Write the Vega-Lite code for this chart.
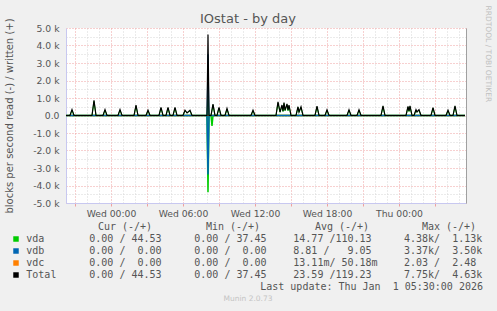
{
  "$schema": "https://vega.github.io/schema/vega-lite/v6.json",
  "width": 400,
  "height": 175,
  "autosize": {"type": "none"},
  "padding": {"left": 66, "top": 28, "right": 31, "bottom": 108},
  "background": "#f0f0f0",
  "title": {"text": "IOstat - by day", "font": "DejaVu Sans", "fontSize": 13, "fontWeight": "normal", "color": "#555555", "anchor": "middle", "frame": "group", "dx": -18, "offset": 3, "dy": 34, "baseline": "alphabetic"},
  "datasets": {
    "writes": [
      {"t": "2025-12-30T20:15:00Z", "Total": 0, "vda": 0, "vdb": 0, "vdc": 0},
      {"t": "2025-12-30T20:35:00Z", "Total": 0, "vda": 0, "vdb": 0, "vdc": 0},
      {"t": "2025-12-30T20:45:00Z", "Total": 340, "vda": 310, "vdb": 0, "vdc": 0},
      {"t": "2025-12-30T20:55:00Z", "Total": 0, "vda": 0, "vdb": 0, "vdc": 0},
      {"t": "2025-12-30T22:25:00Z", "Total": 0, "vda": 0, "vdb": 0, "vdc": 0},
      {"t": "2025-12-30T22:35:00Z", "Total": 870, "vda": 800, "vdb": 0, "vdc": 0},
      {"t": "2025-12-30T22:45:00Z", "Total": 0, "vda": 0, "vdb": 0, "vdc": 0},
      {"t": "2025-12-30T23:20:00Z", "Total": 0, "vda": 0, "vdb": 0, "vdc": 0},
      {"t": "2025-12-30T23:30:00Z", "Total": 340, "vda": 310, "vdb": 0, "vdc": 0},
      {"t": "2025-12-30T23:40:00Z", "Total": 0, "vda": 0, "vdb": 0, "vdc": 0},
      {"t": "2025-12-31T00:35:00Z", "Total": 0, "vda": 0, "vdb": 0, "vdc": 0},
      {"t": "2025-12-31T00:45:00Z", "Total": 340, "vda": 310, "vdb": 0, "vdc": 0},
      {"t": "2025-12-31T00:55:00Z", "Total": 0, "vda": 0, "vdb": 0, "vdc": 0},
      {"t": "2025-12-31T01:55:00Z", "Total": 0, "vda": 0, "vdb": 0, "vdc": 0},
      {"t": "2025-12-31T02:05:00Z", "Total": 590, "vda": 540, "vdb": 0, "vdc": 0},
      {"t": "2025-12-31T02:15:00Z", "Total": 0, "vda": 0, "vdb": 0, "vdc": 0},
      {"t": "2025-12-31T02:55:00Z", "Total": 0, "vda": 0, "vdb": 0, "vdc": 0},
      {"t": "2025-12-31T03:05:00Z", "Total": 300, "vda": 275, "vdb": 0, "vdc": 0},
      {"t": "2025-12-31T03:15:00Z", "Total": 0, "vda": 0, "vdb": 0, "vdc": 0},
      {"t": "2025-12-31T04:00:00Z", "Total": 0, "vda": 0, "vdb": 0, "vdc": 0},
      {"t": "2025-12-31T04:10:00Z", "Total": 460, "vda": 420, "vdb": 0, "vdc": 0},
      {"t": "2025-12-31T04:20:00Z", "Total": 0, "vda": 0, "vdb": 0, "vdc": 0},
      {"t": "2025-12-31T04:35:00Z", "Total": 0, "vda": 0, "vdb": 0, "vdc": 0},
      {"t": "2025-12-31T04:45:00Z", "Total": 460, "vda": 420, "vdb": 0, "vdc": 0},
      {"t": "2025-12-31T04:55:00Z", "Total": 0, "vda": 0, "vdb": 0, "vdc": 0},
      {"t": "2025-12-31T05:10:00Z", "Total": 0, "vda": 0, "vdb": 0, "vdc": 0},
      {"t": "2025-12-31T05:20:00Z", "Total": 460, "vda": 420, "vdb": 0, "vdc": 0},
      {"t": "2025-12-31T05:30:00Z", "Total": 0, "vda": 0, "vdb": 0, "vdc": 0},
      {"t": "2025-12-31T06:00:00Z", "Total": 0, "vda": 0, "vdb": 0, "vdc": 0},
      {"t": "2025-12-31T06:10:00Z", "Total": 300, "vda": 275, "vdb": 0, "vdc": 0},
      {"t": "2025-12-31T06:20:00Z", "Total": 150, "vda": 140, "vdb": 0, "vdc": 0},
      {"t": "2025-12-31T06:35:00Z", "Total": 300, "vda": 275, "vdb": 0, "vdc": 0},
      {"t": "2025-12-31T06:45:00Z", "Total": 0, "vda": 0, "vdb": 0, "vdc": 0},
      {"t": "2025-12-31T08:00:00Z", "Total": 0, "vda": 0, "vdb": 0, "vdc": 0},
      {"t": "2025-12-31T08:05:00Z", "Total": 4630, "vda": 1130, "vdb": 3500, "vdc": 0},
      {"t": "2025-12-31T08:10:00Z", "Total": 0, "vda": 0, "vdb": 0, "vdc": 0},
      {"t": "2025-12-31T08:20:00Z", "Total": 0, "vda": 0, "vdb": 0, "vdc": 0},
      {"t": "2025-12-31T08:30:00Z", "Total": 650, "vda": 600, "vdb": 0, "vdc": 0},
      {"t": "2025-12-31T08:40:00Z", "Total": 0, "vda": 0, "vdb": 0, "vdc": 0},
      {"t": "2025-12-31T08:50:00Z", "Total": 0, "vda": 0, "vdb": 0, "vdc": 0},
      {"t": "2025-12-31T09:00:00Z", "Total": 460, "vda": 420, "vdb": 0, "vdc": 0},
      {"t": "2025-12-31T09:10:00Z", "Total": 0, "vda": 0, "vdb": 0, "vdc": 0},
      {"t": "2025-12-31T09:30:00Z", "Total": 0, "vda": 0, "vdb": 0, "vdc": 0},
      {"t": "2025-12-31T09:40:00Z", "Total": 400, "vda": 370, "vdb": 0, "vdc": 0},
      {"t": "2025-12-31T09:50:00Z", "Total": 0, "vda": 0, "vdb": 0, "vdc": 0},
      {"t": "2025-12-31T11:40:00Z", "Total": 0, "vda": 0, "vdb": 0, "vdc": 0},
      {"t": "2025-12-31T11:50:00Z", "Total": 300, "vda": 275, "vdb": 0, "vdc": 0},
      {"t": "2025-12-31T12:00:00Z", "Total": 0, "vda": 0, "vdb": 0, "vdc": 0},
      {"t": "2025-12-31T13:45:00Z", "Total": 0, "vda": 0, "vdb": 0, "vdc": 0},
      {"t": "2025-12-31T13:55:00Z", "Total": 780, "vda": 720, "vdb": 0, "vdc": 0},
      {"t": "2025-12-31T14:05:00Z", "Total": 200, "vda": 185, "vdb": 0, "vdc": 0},
      {"t": "2025-12-31T14:15:00Z", "Total": 600, "vda": 550, "vdb": 0, "vdc": 0},
      {"t": "2025-12-31T14:20:00Z", "Total": 250, "vda": 230, "vdb": 0, "vdc": 0},
      {"t": "2025-12-31T14:25:00Z", "Total": 740, "vda": 680, "vdb": 0, "vdc": 0},
      {"t": "2025-12-31T14:30:00Z", "Total": 300, "vda": 275, "vdb": 0, "vdc": 0},
      {"t": "2025-12-31T14:40:00Z", "Total": 660, "vda": 610, "vdb": 0, "vdc": 0},
      {"t": "2025-12-31T14:45:00Z", "Total": 300, "vda": 275, "vdb": 0, "vdc": 0},
      {"t": "2025-12-31T14:50:00Z", "Total": 600, "vda": 550, "vdb": 0, "vdc": 0},
      {"t": "2025-12-31T15:00:00Z", "Total": 0, "vda": 0, "vdb": 0, "vdc": 0},
      {"t": "2025-12-31T15:25:00Z", "Total": 0, "vda": 0, "vdb": 0, "vdc": 0},
      {"t": "2025-12-31T15:35:00Z", "Total": 500, "vda": 460, "vdb": 0, "vdc": 0},
      {"t": "2025-12-31T15:40:00Z", "Total": 200, "vda": 185, "vdb": 0, "vdc": 0},
      {"t": "2025-12-31T15:50:00Z", "Total": 500, "vda": 460, "vdb": 0, "vdc": 0},
      {"t": "2025-12-31T16:00:00Z", "Total": 0, "vda": 0, "vdb": 0, "vdc": 0},
      {"t": "2025-12-31T17:00:00Z", "Total": 0, "vda": 0, "vdb": 0, "vdc": 0},
      {"t": "2025-12-31T17:10:00Z", "Total": 530, "vda": 490, "vdb": 0, "vdc": 0},
      {"t": "2025-12-31T17:20:00Z", "Total": 0, "vda": 0, "vdb": 0, "vdc": 0},
      {"t": "2025-12-31T17:50:00Z", "Total": 0, "vda": 0, "vdb": 0, "vdc": 0},
      {"t": "2025-12-31T18:00:00Z", "Total": 330, "vda": 300, "vdb": 0, "vdc": 0},
      {"t": "2025-12-31T18:10:00Z", "Total": 0, "vda": 0, "vdb": 0, "vdc": 0},
      {"t": "2025-12-31T19:40:00Z", "Total": 0, "vda": 0, "vdb": 0, "vdc": 0},
      {"t": "2025-12-31T19:50:00Z", "Total": 330, "vda": 300, "vdb": 0, "vdc": 0},
      {"t": "2025-12-31T20:00:00Z", "Total": 0, "vda": 0, "vdb": 0, "vdc": 0},
      {"t": "2025-12-31T20:30:00Z", "Total": 0, "vda": 0, "vdb": 0, "vdc": 0},
      {"t": "2025-12-31T20:40:00Z", "Total": 330, "vda": 300, "vdb": 0, "vdc": 0},
      {"t": "2025-12-31T20:50:00Z", "Total": 0, "vda": 0, "vdb": 0, "vdc": 0},
      {"t": "2025-12-31T22:30:00Z", "Total": 0, "vda": 0, "vdb": 0, "vdc": 0},
      {"t": "2025-12-31T22:40:00Z", "Total": 550, "vda": 505, "vdb": 0, "vdc": 0},
      {"t": "2025-12-31T22:50:00Z", "Total": 0, "vda": 0, "vdb": 0, "vdc": 0},
      {"t": "2026-01-01T00:35:00Z", "Total": 0, "vda": 0, "vdb": 0, "vdc": 0},
      {"t": "2026-01-01T00:45:00Z", "Total": 520, "vda": 480, "vdb": 0, "vdc": 0},
      {"t": "2026-01-01T00:50:00Z", "Total": 250, "vda": 230, "vdb": 0, "vdc": 0},
      {"t": "2026-01-01T00:55:00Z", "Total": 550, "vda": 505, "vdb": 0, "vdc": 0},
      {"t": "2026-01-01T01:05:00Z", "Total": 0, "vda": 0, "vdb": 0, "vdc": 0},
      {"t": "2026-01-01T01:15:00Z", "Total": 0, "vda": 0, "vdb": 0, "vdc": 0},
      {"t": "2026-01-01T01:25:00Z", "Total": 330, "vda": 300, "vdb": 0, "vdc": 0},
      {"t": "2026-01-01T01:30:00Z", "Total": 200, "vda": 185, "vdb": 0, "vdc": 0},
      {"t": "2026-01-01T01:40:00Z", "Total": 330, "vda": 300, "vdb": 0, "vdc": 0},
      {"t": "2026-01-01T01:50:00Z", "Total": 0, "vda": 0, "vdb": 0, "vdc": 0},
      {"t": "2026-01-01T02:40:00Z", "Total": 0, "vda": 0, "vdb": 0, "vdc": 0},
      {"t": "2026-01-01T02:50:00Z", "Total": 450, "vda": 415, "vdb": 0, "vdc": 0},
      {"t": "2026-01-01T03:00:00Z", "Total": 0, "vda": 0, "vdb": 0, "vdc": 0},
      {"t": "2026-01-01T03:55:00Z", "Total": 0, "vda": 0, "vdb": 0, "vdc": 0},
      {"t": "2026-01-01T04:05:00Z", "Total": 300, "vda": 275, "vdb": 0, "vdc": 0},
      {"t": "2026-01-01T04:15:00Z", "Total": 0, "vda": 0, "vdb": 0, "vdc": 0},
      {"t": "2026-01-01T04:30:00Z", "Total": 0, "vda": 0, "vdb": 0, "vdc": 0},
      {"t": "2026-01-01T04:40:00Z", "Total": 550, "vda": 505, "vdb": 0, "vdc": 0},
      {"t": "2026-01-01T04:50:00Z", "Total": 0, "vda": 0, "vdb": 0, "vdc": 0},
      {"t": "2026-01-01T05:30:00Z", "Total": 0, "vda": 0, "vdb": 0, "vdc": 0}
    ],
    "reads": [
      {"t": "2025-12-30T20:15:00Z", "vdc": 0, "vda": 0, "vdb": 0},
      {"t": "2025-12-31T08:00:00Z", "vdc": 0, "vda": 0, "vdb": 0},
      {"t": "2025-12-31T08:05:00Z", "vdc": 0, "vda": -4380, "vdb": -3370},
      {"t": "2025-12-31T08:10:00Z", "vdc": 0, "vda": 0, "vdb": 0},
      {"t": "2025-12-31T08:20:00Z", "vdc": 0, "vda": 0, "vdb": 0},
      {"t": "2025-12-31T08:25:00Z", "vdc": 0, "vda": -600, "vdb": 0},
      {"t": "2025-12-31T08:30:00Z", "vdc": 0, "vda": 0, "vdb": 0},
      {"t": "2026-01-01T05:30:00Z", "vdc": 0, "vda": 0, "vdb": 0}
    ],
    "table": [
      {"k": "hdr", "c": 6, "r": 0, "txt": "Cur (-/+)"},
      {"k": "hdr", "c": 7, "r": 0, "txt": "Min (-/+)"},
      {"k": "hdr", "c": 8, "r": 0, "txt": "Avg (-/+)"},
      {"k": "hdr", "c": 9, "r": 0, "txt": "Max (-/+)"},
      {"k": "sw", "c": -2, "r": 1, "s": "vda"},
      {"k": "sw", "c": -2, "r": 2, "s": "vdb"},
      {"k": "sw", "c": -2, "r": 3, "s": "vdc"},
      {"k": "sw", "c": -2, "r": 4, "s": "Total"},
      {"k": "txt", "c": -1, "r": 1, "txt": "vda"},
      {"k": "txt", "c": -1, "r": 2, "txt": "vdb"},
      {"k": "txt", "c": -1, "r": 3, "txt": "vdc"},
      {"k": "txt", "c": -1, "r": 4, "txt": "Total"},
      {"k": "txt", "c": 0, "r": 1, "txt": "0.00\u00a0/\u00a044.53"},
      {"k": "txt", "c": 1, "r": 1, "txt": "0.00\u00a0/\u00a037.45"},
      {"k": "txt", "c": 2, "r": 1, "txt": "14.77\u00a0/110.13"},
      {"k": "txt", "c": 3, "r": 1, "txt": "4.38k/\u00a0\u00a01.13k"},
      {"k": "txt", "c": 0, "r": 2, "txt": "0.00\u00a0/\u00a0\u00a00.00"},
      {"k": "txt", "c": 1, "r": 2, "txt": "0.00\u00a0/\u00a0\u00a00.00"},
      {"k": "txt", "c": 2, "r": 2, "txt": "8.81\u00a0/\u00a0\u00a0\u00a09.05"},
      {"k": "txt", "c": 3, "r": 2, "txt": "3.37k/\u00a0\u00a03.50k"},
      {"k": "txt", "c": 0, "r": 3, "txt": "0.00\u00a0/\u00a0\u00a00.00"},
      {"k": "txt", "c": 1, "r": 3, "txt": "0.00\u00a0/\u00a0\u00a00.00"},
      {"k": "txt", "c": 2, "r": 3, "txt": "13.11m/\u00a050.18m"},
      {"k": "txt", "c": 3, "r": 3, "txt": "2.03\u00a0/\u00a0\u00a02.48"},
      {"k": "txt", "c": 0, "r": 4, "txt": "0.00\u00a0/\u00a044.53"},
      {"k": "txt", "c": 1, "r": 4, "txt": "0.00\u00a0/\u00a037.45"},
      {"k": "txt", "c": 2, "r": 4, "txt": "23.59\u00a0/119.23"},
      {"k": "txt", "c": 3, "r": 4, "txt": "7.75k/\u00a0\u00a04.63k"},
      {"k": "upd", "c": 4, "r": 5, "txt": "Last\u00a0update:\u00a0Thu\u00a0Jan\u00a0\u00a01\u00a005:30:00\u00a02026"},
      {"k": "ver", "c": 5, "r": 6, "txt": "Munin 2.0.73"}
    ]
  },
  "layer": [
    {
      "layer": [
        {
          "data": {"name": "reads"},
          "transform": [{"fold": ["vdc", "vda", "vdb"], "as": ["s", "v"]}],
          "mark": {"type": "line", "strokeWidth": 1.5},
          "encoding": {
            "x": {"field": "t", "type": "temporal",
              "scale": {"type": "utc", "domain": [1767125700000, 1767245700000], "nice": false},
              "axis": {"orient": "bottom", "values": [1767128400000, 1767139200000, 1767150000000, 1767160800000, 1767171600000, 1767182400000, 1767193200000, 1767204000000, 1767214800000, 1767225600000, 1767236400000],
                "labelExpr": "utchours(datum.value) % 6 == 0 ? utcFormat(datum.value, '%a %H:%M') : ''",
                "title": null, "grid": true, "gridColor": "#eea0a0", "gridDash": [1, 2], "gridOpacity": 1,
                "tickColor": "#eea0a0", "tickSize": 3, "domainColor": "#c8c8f0", "labelFontSize": 9.25, "labelPadding": 3, "labelOverlap": false, "labelFlush": false}},
            "y": {"field": "v", "type": "quantitative",
              "scale": {"domain": [-5000, 5000], "nice": false, "zero": false},
              "axis": {"orient": "left", "values": [-5000, -4000, -3000, -2000, -1000, 0, 1000, 2000, 3000, 4000, 5000],
                "labelExpr": "datum.value == 0 ? '0.0' : (datum.value < 0 ? '-' : '') + format(abs(datum.value) / 1000, '.1f') + ' k'",
                "title": "blocks per second read (-) / written (+)", "titleFontSize": 10, "titlePadding": 18,
                "grid": true, "gridColor": "#eea0a0", "gridDash": [1, 2], "gridOpacity": 1,
                "ticks": false, "labelPadding": 7, "domainColor": "#c8c8f0", "labelFontSize": 9.25, "labelOverlap": false}},
            "color": {"field": "s", "type": "nominal", "scale": {"domain": ["vda", "vdb", "vdc", "Total"], "range": ["#00cc00", "#0066b3", "#ff8000", "#000000"]}, "legend": null}
          }
        },
        {
          "data": {"name": "writes"},
          "transform": [{"fold": ["vdc", "vda", "vdb"], "as": ["s", "v"]}],
          "mark": {"type": "line", "strokeWidth": 1},
          "encoding": {
            "x": {"field": "t", "type": "temporal",
              "axis": {"orient": "top", "values": [1767132000000, 1767135600000, 1767142800000, 1767146400000, 1767153600000, 1767157200000, 1767164400000, 1767168000000, 1767175200000, 1767178800000, 1767186000000, 1767189600000, 1767196800000, 1767200400000, 1767207600000, 1767211200000, 1767218400000, 1767222000000, 1767229200000, 1767232800000, 1767240000000, 1767243600000],
                "labels": false, "ticks": false, "domain": false, "title": null, "grid": true, "gridColor": "#d6d6d6", "gridDash": [1, 2], "gridOpacity": 1}},
            "y": {"field": "v", "type": "quantitative",
              "axis": {"orient": "right", "values": [-4500, -3500, -2500, -1500, -500, 500, 1500, 2500, 3500, 4500],
                "labels": false, "ticks": false, "domain": true, "domainColor": "#a0a0a0",
                "grid": true, "gridColor": "#d6d6d6", "gridDash": [1, 2], "gridOpacity": 1,
                "title": "RRDTOOL / TOBI OETIKER", "titleAngle": 90, "titleFontSize": 7.5, "titleColor": "#c0c0c0", "titleFontWeight": "normal",
                "titleX": 21, "titleY": -23, "titleAlign": "left", "titleBaseline": "middle"}},
            "color": {"field": "s", "type": "nominal", "legend": null}
          }
        },
        {
          "data": {"name": "writes"},
          "transform": [{"fold": ["Total"], "as": ["s", "v"]}],
          "mark": {"type": "line", "strokeWidth": 1.2},
          "encoding": {
            "x": {"field": "t", "type": "temporal", "axis": null},
            "y": {"field": "v", "type": "quantitative", "axis": null},
            "color": {"field": "s", "type": "nominal", "legend": null}
          }
        }
      ],
      "resolve": {"axis": {"x": "independent", "y": "independent"}}
    },
    {
      "data": {"name": "table"},
      "encoding": {
        "x": {"field": "c", "type": "quantitative", "axis": null,
          "scale": {"domain": [-2, -1, 0, 1, 2, 3, 4, 5, 6, 7, 8, 9], "range": [-50, -39.7, 23.3, 128.3, 227.3, 338, 417, 182, 59, 167, 276, 383], "nice": false, "zero": false}},
        "y": {"field": "r", "type": "quantitative", "axis": null,
          "scale": {"domain": [0, 6], "range": [199, 271], "nice": false, "zero": false}}
      },
      "layer": [
        {
          "transform": [{"filter": "datum.k == 'sw'"}],
          "mark": {"type": "square", "size": 30, "opacity": 1},
          "encoding": {"color": {"field": "s", "type": "nominal", "legend": null}}
        },
        {
          "transform": [{"filter": "datum.k == 'txt'"}],
          "mark": {"type": "text", "align": "left", "baseline": "middle", "font": "DejaVu Sans Mono", "fontSize": 10, "color": "#555555"},
          "encoding": {"text": {"field": "txt"}}
        },
        {
          "transform": [{"filter": "datum.k == 'hdr'"}],
          "mark": {"type": "text", "align": "center", "baseline": "middle", "font": "DejaVu Sans Mono", "fontSize": 10, "color": "#555555"},
          "encoding": {"text": {"field": "txt"}}
        },
        {
          "transform": [{"filter": "datum.k == 'upd'"}],
          "mark": {"type": "text", "align": "right", "baseline": "middle", "font": "DejaVu Sans Mono", "fontSize": 10, "color": "#555555"},
          "encoding": {"text": {"field": "txt"}}
        },
        {
          "transform": [{"filter": "datum.k == 'ver'"}],
          "mark": {"type": "text", "align": "center", "baseline": "middle", "font": "DejaVu Sans", "fontSize": 7.5, "color": "#c4c4c4"},
          "encoding": {"text": {"field": "txt"}}
        }
      ]
    }
  ],
  "resolve": {"scale": {"x": "independent", "y": "independent"}},
  "config": {
    "view": {"fill": "#ffffff", "stroke": null},
    "font": "DejaVu Sans",
    "axis": {"labelFont": "DejaVu Sans", "titleFont": "DejaVu Sans", "labelColor": "#555555", "titleColor": "#555555", "titleFontWeight": "normal"},
    "legend": {"disable": true}
  }
}
